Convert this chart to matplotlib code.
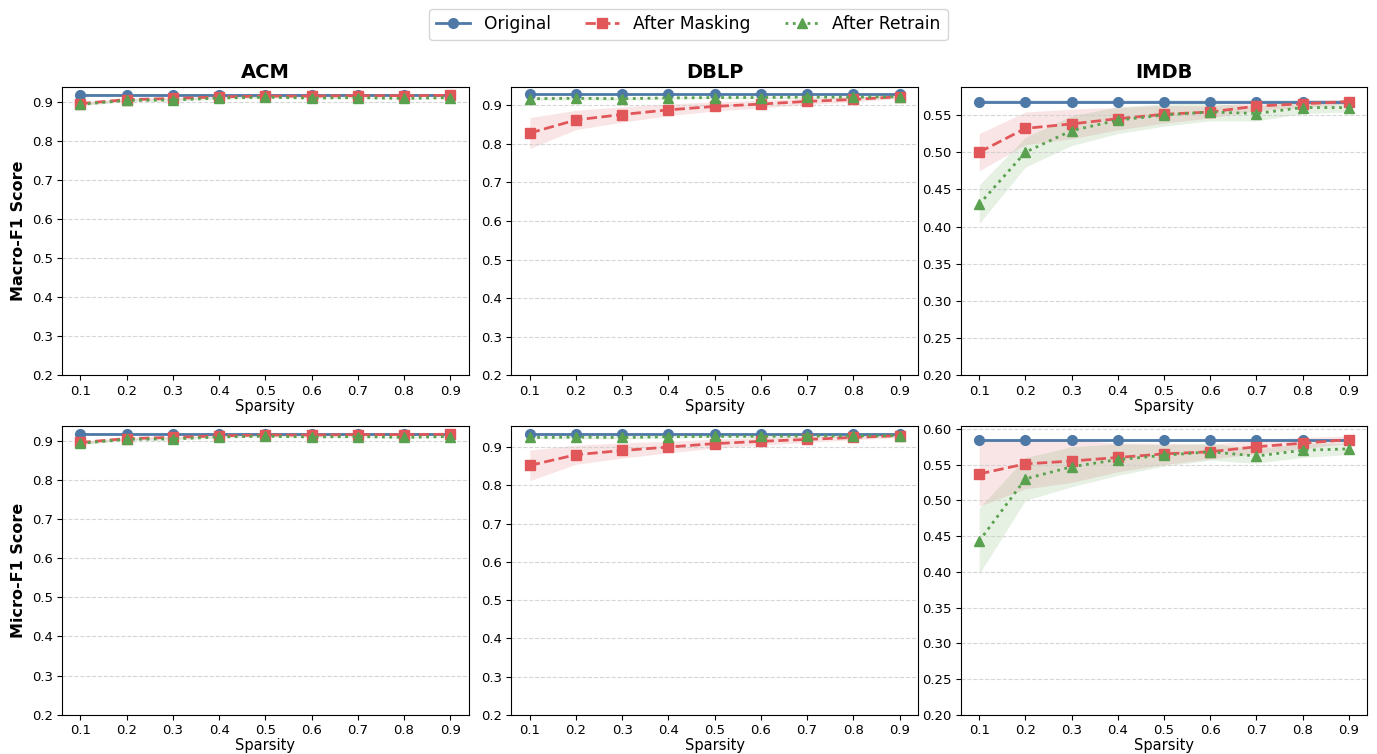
import numpy as np
import matplotlib.pyplot as plt

sparsity = [0.1, 0.2, 0.3, 0.4, 0.5, 0.6, 0.7, 0.8, 0.9]
datasets = ["ACM", "DBLP", "IMDB"]

# macro-F1
acm_macro_orig = [0.918] * 9
acm_macro_mask = [0.895, 0.905, 0.908, 0.912, 0.914, 0.914, 0.915, 0.915, 0.916]
acm_macro_retr = [0.893, 0.903, 0.904, 0.909, 0.911, 0.909, 0.910, 0.908, 0.910]
dblp_macro_orig = [0.928] * 9
dblp_macro_mask = [0.828, 0.862, 0.876, 0.888, 0.897, 0.903, 0.910, 0.915, 0.922]
dblp_macro_retr = [0.917, 0.918, 0.917, 0.919, 0.920, 0.920, 0.921, 0.921, 0.922]
imdb_macro_orig = [0.568] * 9
imdb_macro_mask = [0.500, 0.532, 0.538, 0.545, 0.551, 0.554, 0.562, 0.565, 0.568]
imdb_macro_retr = [0.430, 0.500, 0.529, 0.543, 0.550, 0.554, 0.552, 0.560, 0.560]

# micro-F1
acm_micro_orig = [0.917] * 9
acm_micro_mask = [0.895, 0.905, 0.908, 0.912, 0.914, 0.914, 0.915, 0.915, 0.916]
acm_micro_retr = [0.893, 0.903, 0.904, 0.909, 0.911, 0.909, 0.910, 0.908, 0.910]
dblp_micro_orig = [0.935] * 9
dblp_micro_mask = [0.852, 0.880, 0.891, 0.900, 0.909, 0.915, 0.920, 0.925, 0.930]
dblp_micro_retr = [0.925, 0.926, 0.925, 0.927, 0.928, 0.928, 0.929, 0.929, 0.930]
imdb_micro_orig = [0.584] * 9
imdb_micro_mask = [0.537, 0.551, 0.555, 0.560, 0.565, 0.568, 0.575, 0.580, 0.585]
imdb_micro_retr = [0.443, 0.530, 0.547, 0.557, 0.563, 0.568, 0.562, 0.570, 0.572]

# std (band half-widths)
std_orig = [0.002] * 9
acm_std_mask = [0.004, 0.003, 0.003, 0.002, 0.002, 0.002, 0.002, 0.002, 0.002]
acm_std_retr = [0.004, 0.003, 0.003, 0.003, 0.002, 0.002, 0.002, 0.002, 0.002]
dblp_std_mask = [0.040, 0.025, 0.020, 0.015, 0.012, 0.010, 0.008, 0.006, 0.005]
dblp_std_retr = [0.004, 0.004, 0.004, 0.003, 0.003, 0.003, 0.003, 0.003, 0.003]
imdb_macro_std_mask = [0.025, 0.022, 0.020, 0.015, 0.012, 0.008, 0.006, 0.005, 0.003]
imdb_macro_std_retr = [0.026, 0.020, 0.020, 0.018, 0.015, 0.012, 0.010, 0.008, 0.006]
imdb_micro_std_mask = [0.045, 0.035, 0.030, 0.020, 0.015, 0.010, 0.010, 0.008, 0.005]
imdb_micro_std_retr = [0.046, 0.030, 0.028, 0.022, 0.015, 0.012, 0.010, 0.010, 0.008]

rows = [
    [(acm_macro_orig, acm_macro_mask, acm_macro_retr, acm_std_mask, acm_std_retr),
     (dblp_macro_orig, dblp_macro_mask, dblp_macro_retr, dblp_std_mask, dblp_std_retr),
     (imdb_macro_orig, imdb_macro_mask, imdb_macro_retr, imdb_macro_std_mask, imdb_macro_std_retr)],
    [(acm_micro_orig, acm_micro_mask, acm_micro_retr, acm_std_mask, acm_std_retr),
     (dblp_micro_orig, dblp_micro_mask, dblp_micro_retr, dblp_std_mask, dblp_std_retr),
     (imdb_micro_orig, imdb_micro_mask, imdb_micro_retr, imdb_micro_std_mask, imdb_micro_std_retr)],
]
row_labels = ["Macro-F1 Score", "Micro-F1 Score"]

c_orig = "#4e79a7"
c_mask = "#e15759"
c_retr = "#59a14f"

fig, axes = plt.subplots(2, 3, figsize=(13.77, 7.54), dpi=100)
fig.subplots_adjust(left=0.045, right=0.993, top=0.885, bottom=0.052, wspace=0.105, hspace=0.175)

x = np.array(sparsity)
for r in range(2):
    for c in range(3):
        ax = axes[r, c]
        orig, mask, retr, smask, sretr = [np.array(v) for v in rows[r][c]]
        so = np.array(std_orig)
        ax.fill_between(x, orig - so, orig + so, color=c_orig, alpha=0.15, lw=0)
        ax.fill_between(x, mask - smask, mask + smask, color=c_mask, alpha=0.15, lw=0)
        ax.fill_between(x, retr - sretr, retr + sretr, color=c_retr, alpha=0.15, lw=0)
        ax.plot(x, orig, color=c_orig, marker="o", ls="-", lw=2, ms=7, label="Original")
        ax.plot(x, mask, color=c_mask, marker="s", ls="--", lw=2, ms=7, label="After Masking")
        ax.plot(x, retr, color=c_retr, marker="^", ls=":", lw=2, ms=7, label="After Retrain")
        ax.set_xticks(sparsity)
        ax.set_xlim(0.06, 0.94)
        ax.set_ylim(0.2, orig.max() + 0.02)
        if c == 2:
            ax.set_yticks(np.arange(0.20, orig.max() + 0.02, 0.05))
            ax.yaxis.set_major_formatter(plt.FormatStrFormatter("%.2f"))
        else:
            ax.set_yticks(np.arange(0.2, 0.95, 0.1))
            ax.yaxis.set_major_formatter(plt.FormatStrFormatter("%.1f"))
        ax.grid(axis="y", ls="--", color="#cccccc", alpha=0.8, lw=0.8)
        ax.set_xlabel("Sparsity", fontsize=10.5, labelpad=1)
        ax.tick_params(labelsize=9.5, pad=3)
        if r == 0:
            ax.set_title(datasets[c], fontsize=14, fontweight="bold")
        if c == 0:
            ax.set_ylabel(row_labels[r], fontsize=11.5, fontweight="bold")

handles, labels = axes[0, 0].get_legend_handles_labels()
fig.legend(handles, labels, loc="upper center", ncol=3, fontsize=12.3,
           bbox_to_anchor=(0.5, 1.0), frameon=True)

fig.savefig("out.png", dpi=100)
